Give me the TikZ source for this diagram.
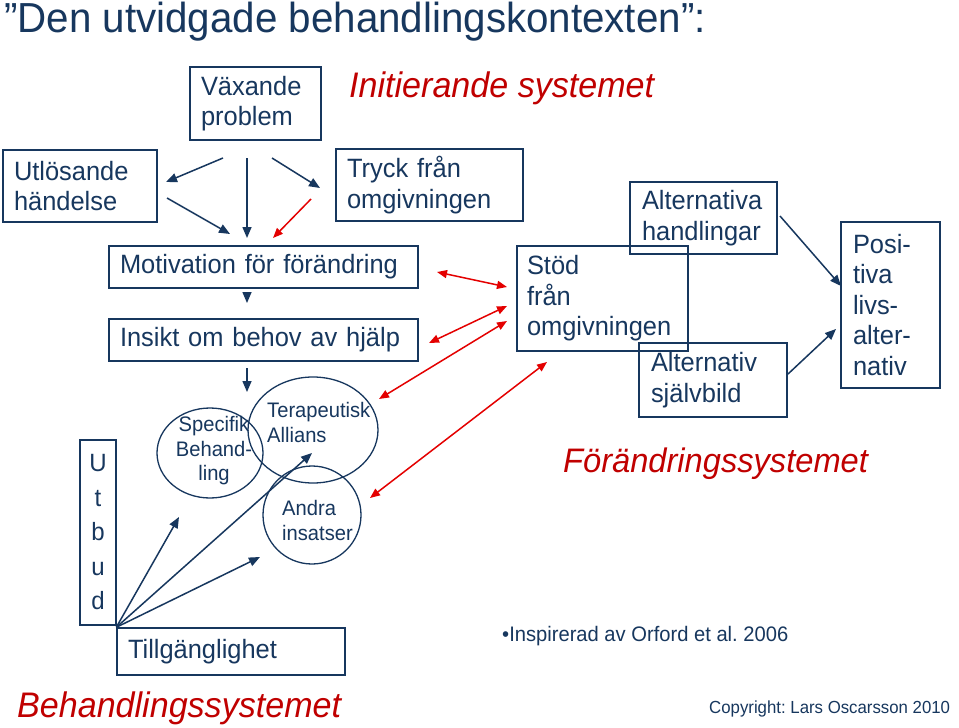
\documentclass[tikz,border=0pt]{standalone}
\usepackage{fontspec}
\setmainfont{Liberation Sans}[FakeStretch=0.96]
\usetikzlibrary{shapes.geometric,arrows.meta}
\definecolor{navy}{RGB}{23,55,94}
\definecolor{darkred}{RGB}{192,0,0}
\definecolor{arrred}{RGB}{228,0,0}
\hyphenpenalty=10000
\exhyphenpenalty=10000
\frenchspacing
\newcommand\bxfont{\fontsize{26.5}{30.5}\selectfont}
\newcommand\elfont{\fontsize{21}{24.5}\selectfont}
\newcommand\sysfont{\fontsize{35.5}{40}\selectfont\itshape}
\begin{document}
\begin{tikzpicture}[x=1pt,y=-1pt,
  every node/.style={inner sep=0pt},
  box/.style={draw=navy, line width=1.4pt, text=navy, font=\bxfont, align=left, inner xsep=11pt, inner ysep=0pt},
  ell/.style={draw=navy, line width=1.3pt, ellipse},
  eltext/.style={text=navy, font=\elfont},
  systext/.style={text=darkred, font=\sysfont, anchor=base west},
  navarrow/.style={draw=navy, line width=1.5pt, -{Triangle[length=11pt,width=9pt]}},
  redarrow/.style={draw=arrred, line width=1.5pt, -{Triangle[length=10pt,width=8pt]}},
  reddbl/.style={draw=arrred, line width=1.5pt, {Triangle[length=10pt,width=8pt]}-{Triangle[length=10pt,width=8pt]}}
]
\useasboundingbox[fill=white] (0,0) rectangle (959,728);

% titles
\node[anchor=base west, text=navy, font=\fontsize{42}{48}\selectfont] (title) at (4,32) {”Den utvidgade behandlingskontexten”:};
\node[systext] (init) at (349,97) {Initierande systemet};
\node[systext] (behsys) at (17,717) {Behandlingssystemet};
\node[systext, font=\fontsize{34}{40}\selectfont\itshape] (forsys) at (563,472) {Förändringssystemet};
\node[anchor=base west, text=navy, font=\fontsize{21}{24}\selectfont] (insp) at (502,641) {•Inspirerad av Orford et al. 2006};
\node[anchor=base west, text=navy, font=\fontsize{17.5}{20}\selectfont] (copy) at (709,713) {Copyright: Lars Oscarsson 2010};

% boxes
\node[box, minimum width=131pt, minimum height=73pt, text width=109pt] (vp) at (255.5,103.5) {Växande\\problem};
\node[box, minimum width=154pt, minimum height=72pt, text width=132pt] (ut) at (80,186) {Utlösande\\händelse};
\node[box, minimum width=187pt, minimum height=72pt, text width=165pt] (tr) at (429.5,185) {Tryck från\\omgivningen};
\node[box, minimum width=309pt, minimum height=42pt, text width=287pt] (mo) at (263.5,267) {Motivation för förändring};
\node[box, minimum width=309pt, minimum height=42pt, text width=287pt] (ins) at (263.5,340) {Insikt om behov av hjälp};
\node[box, minimum width=228pt, minimum height=47pt, text width=206pt] (ti) at (231,651.5) {Tillgänglighet};
\node[box, minimum width=36pt, minimum height=185pt, align=center, inner xsep=0pt, font=\fontsize{25}{34.5}\selectfont] (ub) at (98,532.5) {U\\t\\b\\u\\d};
\node[box, inner xsep=10pt, minimum width=171pt, minimum height=105pt, text width=151pt] (st) at (602.5,298.5) {Stöd\\från\\omgivningen};
\node[box, inner xsep=12pt, minimum width=147pt, minimum height=72pt, text width=123pt] (ah) at (703.5,218) {Alternativa\\handlingar};
\node[box, inner xsep=12pt, minimum width=148pt, minimum height=74pt, text width=124pt] (as) at (713,380) {Alternativ\\självbild};
\node[box, inner xsep=12pt, minimum width=99pt, minimum height=166pt, text width=75pt] (po) at (890.5,305) {Posi-\\tiva\\livs-\\alter-\\nativ};

% ellipses
\node[ell, minimum width=106pt, minimum height=90pt] (e1) at (210,453) {};
\node[ell, minimum width=130pt, minimum height=106pt] (e2) at (313,430) {};
\node[ell, minimum width=98pt, minimum height=98pt] (e3) at (312,515) {};
\node[eltext, align=center] (e1t) at (214,451) {Specifik\\Behand-\\ling};
\node[eltext, align=left, anchor=west] (e2t) at (267,422.5) {Terapeutisk\\Allians};
\node[eltext, align=left, anchor=west] (e3t) at (282,520.5) {Andra\\insatser};

% connector end points
\coordinate (a1s) at (223,158); \coordinate (a1e) at (166,182);
\coordinate (a2s) at (167,198); \coordinate (a2e) at (230,234);
\coordinate (a3s) at (247,158); \coordinate (a3e) at (247,238);
\coordinate (a4s) at (272,158); \coordinate (a4e) at (320,188);
\coordinate (a5s) at (247,293); \coordinate (a5e) at (247,303);
\coordinate (a6s) at (247,368); \coordinate (a6e) at (247,392);
\coordinate (a7e) at (179,517);
\coordinate (a8e) at (312,453);
\coordinate (a9e) at (260,557);
\coordinate (a10s) at (780,216); \coordinate (a10e) at (841,286);
\coordinate (a11s) at (788,374); \coordinate (a11e) at (836,329);
\coordinate (r1s) at (311,199); \coordinate (r1e) at (273,238);
\coordinate (r2s) at (437,272); \coordinate (r2e) at (507,287);
\coordinate (r3s) at (429,343); \coordinate (r3e) at (507,306);
\coordinate (r4s) at (379,399); \coordinate (r4e) at (507,321);
\coordinate (r5s) at (370,498); \coordinate (r5e) at (547,362);

% navy arrows
\draw[navarrow] (a1s) -- (a1e);
\draw[navarrow] (a2s) -- (a2e);
\draw[navarrow] (a3s) -- (a3e);
\draw[navarrow] (a4s) -- (a4e);
\draw[navarrow] (a5s) -- (a5e);
\draw[navarrow] (a6s) -- (a6e);
\draw[navarrow] (ti.north west) -- (a7e);
\draw[navarrow] (ti.north west) -- (a8e);
\draw[navarrow] (ti.north west) -- (a9e);
\draw[navarrow] (a10s) -- (a10e);
\draw[navarrow] (a11s) -- (a11e);

% red arrows
\draw[redarrow] (r1s) -- (r1e);
\draw[reddbl] (r2s) -- (r2e);
\draw[reddbl] (r3s) -- (r3e);
\draw[reddbl] (r4s) -- (r4e);
\draw[reddbl] (r5s) -- (r5e);
\end{tikzpicture}
\end{document}
